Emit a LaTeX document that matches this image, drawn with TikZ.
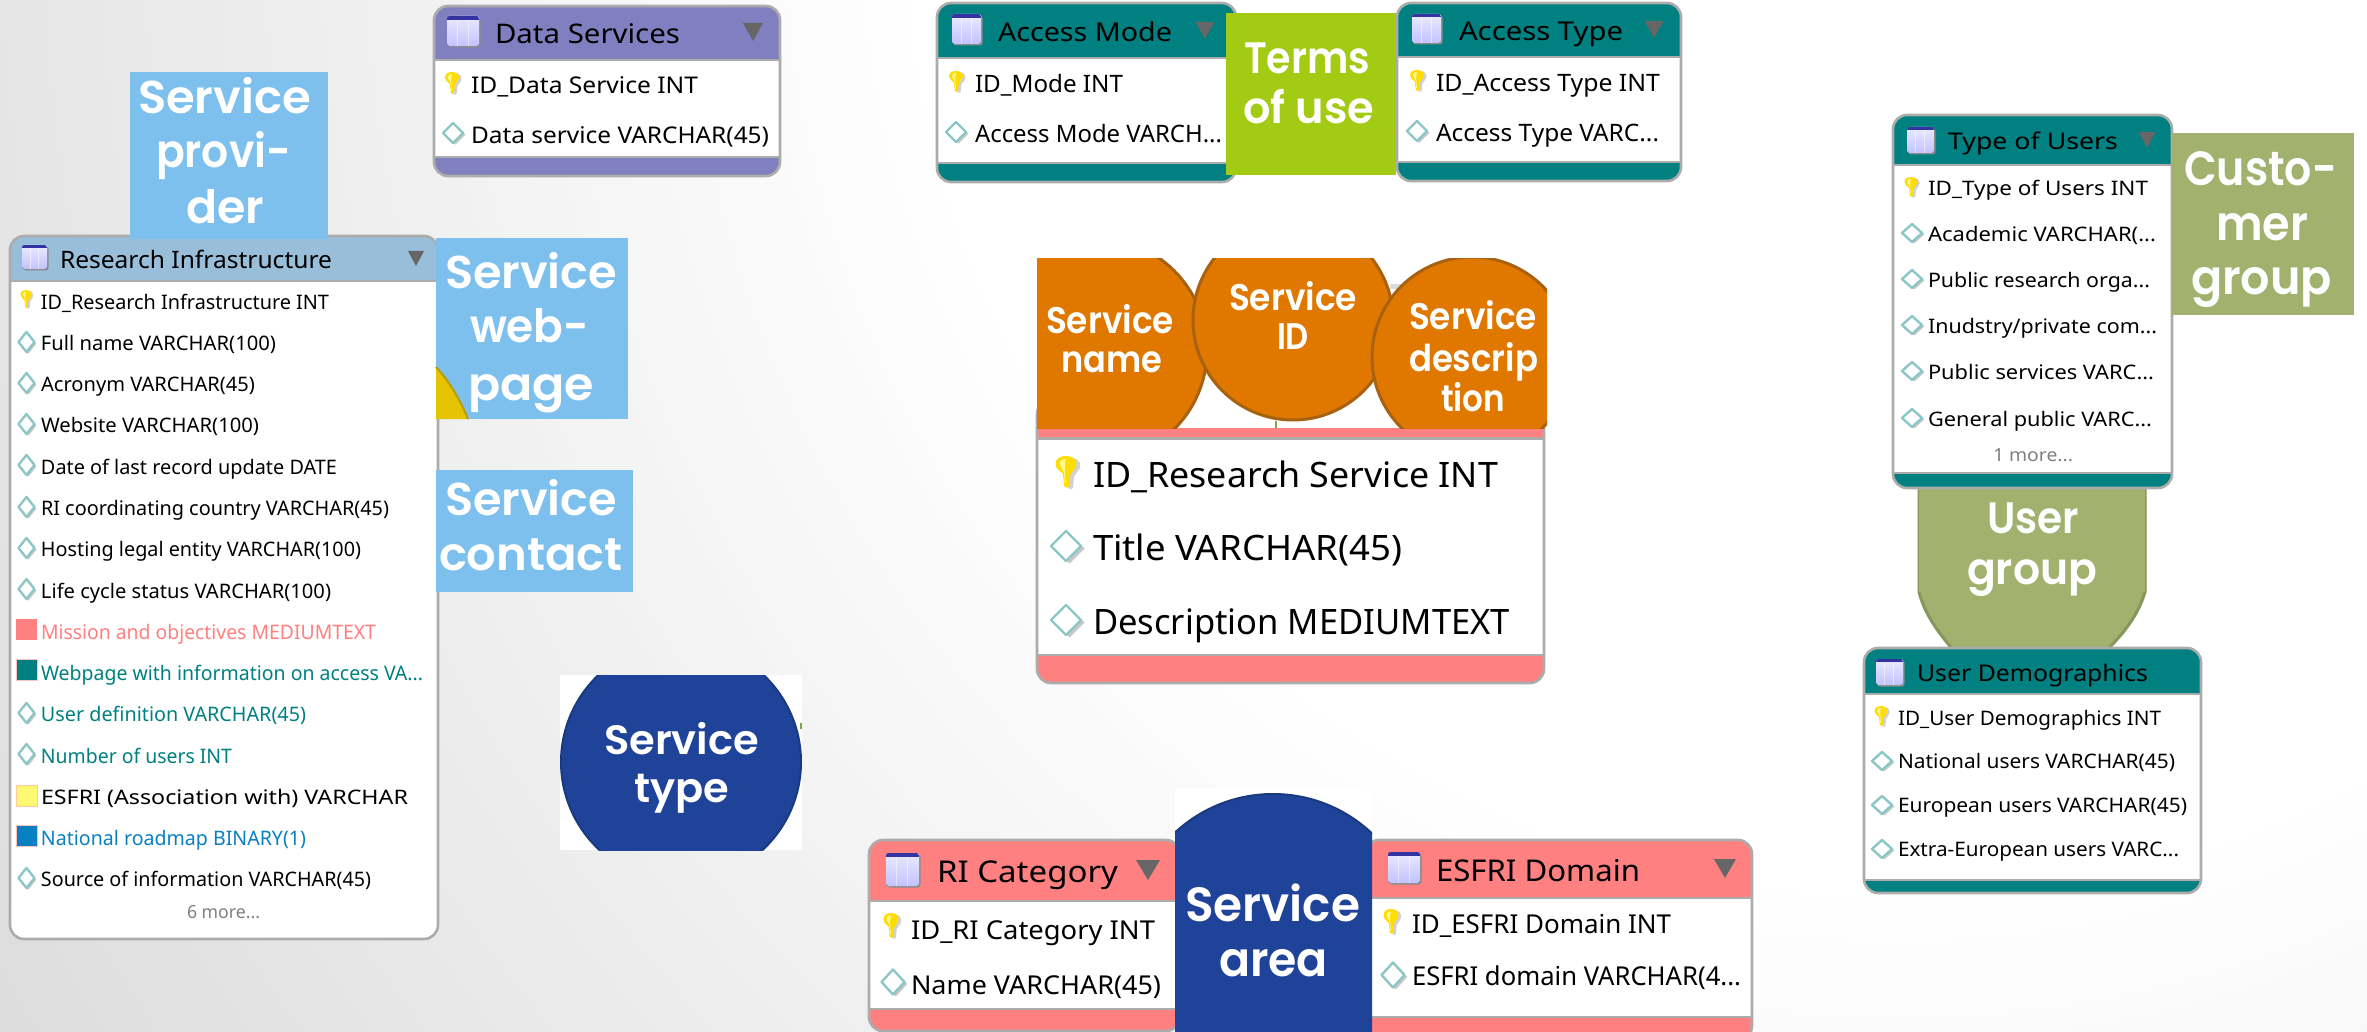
\documentclass[tikz,border=0pt]{standalone}
\usepackage{graphicx}
\usepackage{fontspec}
\setmainfont{Noto Sans}
\newfontfamily\lbl{Poppins}[BoldFont={Poppins SemiBold}]
\definecolor{teal1}{HTML}{008080}
\definecolor{red1}{HTML}{FF8080}
\definecolor{purp1}{HTML}{8080C0}
\definecolor{ltblue}{HTML}{98BEDA}
\definecolor{sky1}{HTML}{7DC0EE}
\definecolor{navy1}{HTML}{1F4398}
\definecolor{navyr}{HTML}{1A3A80}
\definecolor{lime1}{HTML}{A4CB14}
\definecolor{olive1}{HTML}{A3B16E}
\definecolor{oliver}{HTML}{87965A}
\definecolor{oran1}{HTML}{E07800}
\definecolor{oranr}{HTML}{A8610F}
\definecolor{blue2}{HTML}{0A80C4}
\definecolor{outl}{HTML}{ACACAC}
\definecolor{gold1}{HTML}{E6C300}
\definecolor{stem1}{HTML}{7AA83A}
\tikzset{
 txtn/.style={inner sep=0pt,outer sep=0pt,anchor=base west},
 cardline/.style={draw=outl,line width=2.6pt},
 rimc/.style={line width=3pt},
}
% text: name x baseline width size colour text
\newcommand\bT[7]{\node[txtn,text=#6] (#1) at ({#2},{#3}) {\fontsize{#5pt}{#5pt}\selectfont\resizebox{#4pt}{\height}{#7}};}
% row text: name x ycentre width size colour text
\newcommand\rT[7]{\node[txtn,text=#6] (#1) at ({#2},{#3+0.36*#5}) {\fontsize{#5pt}{#5pt}\selectfont\resizebox{#4pt}{\height}{#7}};}
% white label text: name x baseline width size text
\newcommand\lab[6]{\node[txtn,text=white] (#1) at ({#2},{#3}) {\fontsize{#5pt}{#5pt}\selectfont\lbl\bfseries\resizebox{#4pt}{\height}{#6}};}
% card: x1 y1 x2 y2 header-bottom footer-top colour
\newcommand\card[7]{%
 \begin{scope}
  \clip[rounded corners=14pt] (#1,#2) rectangle (#3,#4);
  \fill[white] (#1,#2) rectangle (#3,#4);
  \fill[#7] (#1,#2) rectangle (#3,#5);
  \fill[#7] (#1,#6) rectangle (#3,#4);
  \draw[outl,line width=2.4pt] (#1,#5) -- (#3,#5);
  \draw[outl,line width=2.4pt] (#1,#6) -- (#3,#6);
 \end{scope}
 \draw[cardline,rounded corners=14pt] (#1,#2) rectangle (#3,#4);}
% key: cx top w h
\newcommand\keyic[4]{%
 \begin{scope}[shift={(#1,#2)},x=#3pt,y=-#4pt]
  \fill[black,opacity=.18,shift={(.18,.05)}] (-0.5,0.25) .. controls (-0.5,0.05) and (-0.2,0) .. (0,0) .. controls (0.3,0) and (0.5,0.1) .. (0.5,0.25) .. controls (0.5,0.4) and (0.25,0.5) .. (0.2,0.6) -- (0.15,0.95) .. controls (0.1,1) and (-0.05,1) .. (-0.08,0.95) -- (-0.15,0.55) .. controls (-0.3,0.45) and (-0.5,0.4) .. (-0.5,0.25) -- cycle;
  \fill[yellow!80!orange] (-0.5,0.25) .. controls (-0.5,0.05) and (-0.2,0) .. (0,0) .. controls (0.3,0) and (0.5,0.1) .. (0.5,0.25) .. controls (0.5,0.4) and (0.25,0.5) .. (0.2,0.6) -- (0.15,0.95) .. controls (0.1,1) and (-0.05,1) .. (-0.08,0.95) -- (-0.15,0.55) .. controls (-0.3,0.45) and (-0.5,0.4) .. (-0.5,0.25) -- cycle;
  \fill[yellow!45!white] (-0.3,0.25) .. controls (-0.3,0.12) and (-0.1,0.08) .. (0,0.1) .. controls (-0.1,0.25) and (-0.05,0.6) .. (0,0.85) -- (-0.05,0.85) -- (-0.1,0.5) -- cycle;
 \end{scope}}
% diamond: cx cy w h
\newcommand\diam[4]{%
 \begin{scope}[shift={(#1,#2)},x=#3pt,y=-#4pt]
  \fill[black,opacity=.22] (0.12,-0.42) -- (0.62,0.08) -- (0.12,0.58) -- (-0.38,0.08) -- cycle;
  \draw[fill=white,draw=teal1!45!white,line width=2.4pt,line join=round] (0,-0.5) -- (0.5,0) -- (0,0.5) -- (-0.5,0) -- cycle;
 \end{scope}}
% table icon: x1 y1 x2 y2
\newcommand\tblic[4]{%
 \fill[black!45,rounded corners=2.5pt] ({#1+1.5},{#2+1.5}) rectangle ({#3+1.5},{#4+1.5});
 \begin{scope}
  \clip[rounded corners=2.5pt] (#1,#2) rectangle (#3,#4);
  \fill[top color=blue!8!white,bottom color=blue!24!white] (#1,#2) rectangle (#3,#4);
  \fill[blue!55!black!80!white] (#1,#2) rectangle (#3,{#2+(#4-#2)*0.12});
  \draw[white,opacity=.5,line width=1pt] ({#1+(#3-#1)*.33},{#2+(#4-#2)*.15}) -- ({#1+(#3-#1)*.33},#4) ({#1+(#3-#1)*.66},{#2+(#4-#2)*.15}) -- ({#1+(#3-#1)*.66},#4);
 \end{scope}}
% triangle: cx top w h
\newcommand\trig[4]{\fill[black!60] ({#1-#3/2},#2) -- ({#1+#3/2},#2) -- (#1,{#2+#4}) -- cycle;}
\begin{document}
\begin{tikzpicture}[x=1pt,y=-1pt]
\path[use as bounding box] (0,0) rectangle (2367,1032);
\clip (0,0) rectangle (2367,1032);
% background: soft grey falling off towards the left
\fill[black!14] (0,0) rectangle (2367,1032);
\foreach \rr in {2300,2280,...,1000} {
 \pgfmathsetmacro\gg{max(0,0.011*(\rr-1000))}
 \fill[black!\gg] (1900,-100) circle[radius=\rr pt];
}
\fill[white] (1900,-100) circle[radius=1000pt];

% ---- User group blob (behind its tables)
\filldraw[fill=olive1,draw=oliver,rimc] (1919,480) -- (2145,480) -- (2145,592) .. controls (2138,615) and (2125,632) .. (2106,651) -- (1954,651) .. controls (1938,632) and (1925,615) .. (1919,592) -- cycle;
\fill[olive1] (1919,480) rectangle (2145,592);
\lab{ug1}{1987}{533}{92}{44}{User}
\lab{ug2}{1967}{584}{130}{44}{group}

% ---- Data Services
\card{434}{6}{780}{176}{60}{157}{purp1}
\tblic{447}{16}{479}{46}
\bT{dsT}{495}{44}{185}{27}{black}{Data Services}
\trig{753}{23}{20}{18}
\keyic{452}{72}{14}{22}
\rT{ds1}{471}{85}{227}{23}{black}{ID\_Data Service INT}
\diam{453}{133}{20}{20}
\rT{ds2}{471}{135}{298}{23}{black}{Data service VARCHAR(45)}

% ---- Research Infrastructure
\card{10}{236}{438}{939}{281}{939}{ltblue}
\tblic{22}{245}{47}{269}
\bT{riT}{60}{269}{272}{24}{black}{Research Infrastructure}
\trig{416}{251}{16}{15}
\keyic{26}{290}{11}{18}
\rT{ri1}{41}{302}{288}{20}{black}{ID\_Research Infrastructure INT}
\diam{26.5}{342}{16}{20}
\rT{ri2}{41}{343}{235}{20}{black}{Full name VARCHAR(100)}
\diam{26.5}{383}{16}{20}
\rT{ri3}{41}{384}{214}{20}{black}{Acronym VARCHAR(45)}
\diam{26.5}{424}{16}{20}
\rT{ri4}{41}{425}{218}{20}{black}{Website VARCHAR(100)}
\diam{26.5}{465}{16}{20}
\rT{ri5}{41}{467}{296}{20}{black}{Date of last record update DATE}
\diam{26.5}{507}{16}{20}
\rT{ri6}{41}{508}{348}{20}{black}{RI coordinating country VARCHAR(45)}
\diam{26.5}{548}{16}{20}
\rT{ri7}{41}{549}{320}{20}{black}{Hosting legal entity VARCHAR(100)}
\diam{26.5}{589}{16}{20}
\rT{ri8}{41}{591}{290}{20}{black}{Life cycle status VARCHAR(100)}
\fill[red1] (16,619) rectangle (37,640);
\rT{ri9}{41}{632}{335}{20}{red1}{Mission and objectives MEDIUMTEXT}
\filldraw[fill=teal1,draw=red1!50!white,line width=.7pt] (16,659) rectangle (37,680);
\rT{ri10}{41}{673}{382}{20}{teal1}{Webpage with information on access VA...}
\diam{26.5}{713}{16}{20}
\rT{ri11}{41}{714}{265}{20}{teal1}{User definition VARCHAR(45)}
\diam{26.5}{754}{16}{20}
\rT{ri12}{41}{756}{191}{20}{teal1}{Number of users INT}
\filldraw[fill=yellow!55!white,draw=orange!40!white,line width=.7pt] (16,785) rectangle (37,806);
\rT{ri13}{41}{797}{367}{20}{black}{ESFRI (Association with) VARCHAR}
\filldraw[fill=blue2,draw=red1!50!white,line width=.7pt] (16,825) rectangle (37,846);
\rT{ri14}{41}{838}{265}{20}{blue2}{National roadmap BINARY(1)}
\diam{26.5}{878}{16}{20}
\rT{ri15}{41}{879}{330}{20}{black}{Source of information VARCHAR(45)}
\rT{ri16}{187}{912}{73}{18}{black!50}{6 more...}

% ---- Service provider / web-page / contact
\fill[sky1] (130,72) rectangle (328,239);
\lab{sp1}{138}{114}{173}{46}{Service}
\lab{sp2}{156}{168}{135}{46}{provi-}
\lab{sp3}{186}{224}{78}{46}{der}
\fill[sky1] (436,238) rectangle (628,419);
\fill[gold1] (436,367) .. controls (450,382) and (460,400) .. (468,419) -- (436,419) -- cycle;
\draw[black!20!gold1,line width=2pt] (436,367) .. controls (450,382) and (460,400) .. (468,419);
\lab{sw1}{445}{289}{172}{46}{Service}
\lab{sw2}{470}{343}{119}{46}{web-}
\lab{sw3}{468}{400}{126}{46}{page}
\fill[sky1] (436,470) rectangle (633,592);
\lab{sc1}{445}{515}{172}{46}{Service}
\lab{sc2}{439}{570}{184}{46}{contact}

% ---- Service type
\fill[white] (560,675) rectangle (802,850);
\begin{scope}
 \clip (560,675) rectangle (802,850);
 \filldraw[fill=navy1,draw=navyr,line width=2pt] (681,762) circle[radius=120pt];
\end{scope}
\fill[stem1] (800,723) rectangle (802,729);
\lab{st1}{604}{754}{155}{41}{Service}
\lab{st2}{634}{802}{95}{41}{type}

% ---- Access Mode / Access Type / Terms
\card{937}{3}{1236}{182}{58}{163}{teal1}
\tblic{952}{14}{981}{44}
\bT{amT}{998}{42}{174}{26}{black}{Access Mode}
\trig{1205}{22}{19}{17}
\keyic{956}{71}{14}{21}
\rT{am1}{975}{84}{148}{24}{black}{ID\_Mode INT}
\diam{956}{132}{20}{20}
\rT{am2}{975}{134}{247}{24}{black}{Access Mode VARCH...}
\card{1397}{3}{1681}{181}{57}{162}{teal1}
\tblic{1412}{14}{1441}{43}
\bT{atT}{1459}{41}{164}{26}{black}{Access Type}
\trig{1654}{21}{19}{17}
\keyic{1417}{70}{14}{21}
\rT{at1}{1436}{83}{224}{24}{black}{ID\_Access Type INT}
\diam{1417}{131}{20}{20}
\rT{at2}{1436}{133}{223}{24}{black}{Access Type VARC...}
\fill[lime1] (1226,13) rectangle (1396,175);
\lab{tu1}{1244}{74}{126}{44}{Terms}
\lab{tu2}{1243}{124}{131}{44}{of use}

% ---- Central table (Research Service)
\card{1037}{400}{1544}{683}{438.5}{655}{red1}
\keyic{1066}{456}{21}{32}
\rT{rs1}{1093}{475}{405}{35}{black}{ID\_Research Service INT}
\diam{1066}{546}{30}{30}
\rT{rs2}{1093}{548}{309}{35}{black}{Title VARCHAR(45)}
\diam{1066}{620}{30}{30}
\rT{rs3}{1093}{622}{417}{35}{black}{Description MEDIUMTEXT}
\begin{scope}
 \clip (1037,259) rectangle (1547,428);
 \fill[white] (1037,259) rectangle (1547,428);
 \fill[black!14] (1390,284) rectangle (1412,289);
 \filldraw[fill=oran1,draw=oranr,rimc] (1095,350) circle[radius=112pt];
 \filldraw[fill=oran1,draw=oranr,rimc] (1293,320) circle[radius=100pt];
 \filldraw[fill=oran1,draw=oranr,rimc] (1472,357) circle[radius=100pt];
\end{scope}
\draw[stem1,line width=2pt] (1276,421) -- (1276,428);
\lab{on1}{1046}{334}{128}{37}{Service}
\lab{on2}{1061}{373}{101}{37}{name}
\lab{oi1}{1229}{311}{128}{37}{Service}
\lab{oi2}{1277}{350}{32}{37}{ID}
\lab{od1}{1409}{330}{128}{37}{Service}
\lab{od2}{1409}{371}{129}{37}{descrip}
\lab{od3}{1441}{411}{64}{37}{tion}

% ---- RI Category / ESFRI Domain / Service area
\card{869}{840}{1180}{1031}{901}{1009}{red1}
\tblic{886}{853}{919}{886}
\bT{rcT}{937}{882}{181}{30}{black}{RI Category}
\trig{1148}{860}{24}{20}
\keyic{891}{913}{15}{25}
\rT{rc1}{911}{930}{244}{26}{black}{ID\_RI Category INT}
\diam{893}{982}{23}{25}
\rT{rc2}{911}{985}{250}{26}{black}{Name VARCHAR(45)}
\card{1365}{840}{1752}{1040}{898}{1017}{red1}
\tblic{1388}{852}{1420}{883}
\bT{edT}{1436}{881}{204}{30}{black}{ESFRI Domain}
\trig{1725}{859}{22}{19}
\keyic{1391}{909}{15}{25}
\rT{ed1}{1412}{924}{259}{26}{black}{ID\_ESFRI Domain INT}
\diam{1393}{975}{23}{25}
\rT{ed2}{1412}{976}{329}{26}{black}{ESFRI domain VARCHAR(4...}
\begin{scope}
 \clip (1175,788) rectangle (1372,1032);
 \fill[white] (1175,788) rectangle (1372,1032);
 \filldraw[fill=navy1,draw=navyr,line width=2pt] (1273,938) circle[radius=144pt];
\end{scope}
\lab{sa1}{1185}{921}{175}{48}{Service}
\lab{sa2}{1219}{976}{109}{48}{area}

% ---- Type of Users / User Demographics / Customer group
\card{1893}{115}{2172}{488}{165}{473}{teal1}
\tblic{1907}{127}{1934}{153}
\bT{tuT}{1948}{150}{170}{23}{black}{Type of Users}
\trig{2147}{132}{17}{16}
\keyic{1911}{177}{13}{20}
\rT{tu1}{1928}{188}{220}{20}{black}{ID\_Type of Users INT}
\diam{1912}{233}{20}{18}
\rT{tu2}{1928}{234}{228}{20}{black}{Academic VARCHAR(...}
\diam{1912}{279}{20}{18}
\rT{tu3}{1928}{280.5}{222}{20}{black}{Public research orga...}
\diam{1912}{325}{20}{18}
\rT{tu4}{1928}{326}{229}{20}{black}{Inudstry/private com...}
\diam{1912}{371}{20}{18}
\rT{tu5}{1928}{372}{226}{20}{black}{Public services VARC...}
\diam{1912}{418}{20}{18}
\rT{tu6}{1928}{419}{224}{20}{black}{General public VARC...}
\rT{tu7}{1993}{455}{80}{18}{black!50}{1 more...}
\fill[olive1] (2172,133) rectangle (2354,315);
\lab{cg1}{2184}{186}{153}{48}{Custo-}
\lab{cg2}{2216}{241}{92}{48}{mer}
\lab{cg3}{2191}{295}{141}{48}{group}
\card{1864}{648}{2201}{893}{694}{880}{teal1}
\tblic{1876}{659}{1903}{685}
\bT{udT}{1917}{681}{231}{23}{black}{User Demographics}
\keyic{1881}{706}{13}{20}
\rT{ud1}{1898}{718}{263}{20}{black}{ID\_User Demographics INT}
\diam{1882}{761}{20}{18}
\rT{ud2}{1898}{761}{277}{20}{black}{National users VARCHAR(45)}
\diam{1882}{805}{20}{18}
\rT{ud3}{1898}{805}{289}{20}{black}{European users VARCHAR(45)}
\diam{1882}{849}{20}{18}
\rT{ud4}{1898}{849}{281}{20}{black}{Extra-European users VARC...}
\end{tikzpicture}
\end{document}
